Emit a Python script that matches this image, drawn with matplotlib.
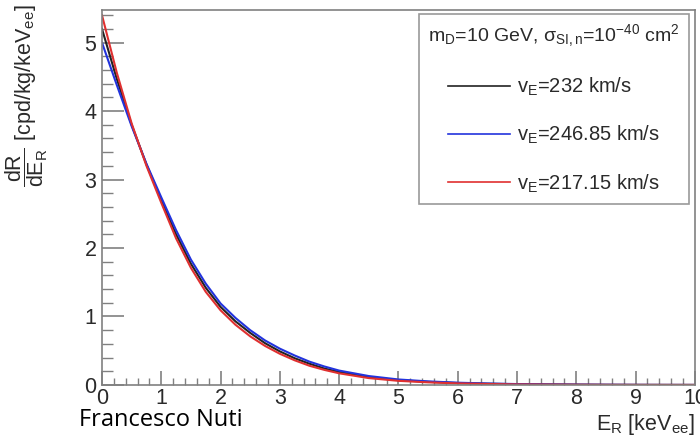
import numpy as np
import matplotlib
matplotlib.use('Agg')
import matplotlib.pyplot as plt
from matplotlib.ticker import MultipleLocator

plt.rcParams['font.family'] = ['Liberation Sans', 'DejaVu Sans']
plt.rcParams['mathtext.fontset'] = 'custom'
plt.rcParams['mathtext.rm'] = 'Liberation Sans'
plt.rcParams['mathtext.it'] = 'Liberation Sans'
plt.rcParams['mathtext.bf'] = 'Liberation Sans:bold'

# recoil energy grid [keVee]
energy = [0, 0.25, 0.5, 0.75, 1.0, 1.25, 1.5, 1.75, 2.0, 2.25, 2.5, 2.75, 3.0,
          3.25, 3.5, 3.75, 4.0, 4.5, 5.0, 5.5, 6.0, 6.5, 7.0, 7.5, 8.0, 8.5,
          9.0, 9.5, 10.0]

# dR/dE for the three Earth velocities
rate_232 = [5.20, 4.47, 3.80, 3.22, 2.70, 2.20, 1.77, 1.42, 1.14, 0.93, 0.76,
            0.61, 0.49, 0.39, 0.31, 0.24, 0.19, 0.115, 0.07, 0.045, 0.028,
            0.018, 0.011, 0.007, 0.004, 0.002, 0.001, 0.0005, 0.0002]
rate_246 = [5.00, 4.38, 3.78, 3.23, 2.74, 2.26, 1.83, 1.48, 1.19, 0.98, 0.80,
            0.65, 0.53, 0.43, 0.34, 0.27, 0.21, 0.13, 0.08, 0.052, 0.033,
            0.021, 0.013, 0.008, 0.005, 0.003, 0.0015, 0.0008, 0.0004]
rate_217 = [5.40, 4.56, 3.82, 3.20, 2.66, 2.14, 1.71, 1.36, 1.09, 0.88, 0.71,
            0.57, 0.455, 0.36, 0.28, 0.22, 0.17, 0.10, 0.06, 0.038, 0.023,
            0.014, 0.008, 0.005, 0.003, 0.0015, 0.0008, 0.0004, 0.0002]

labels = [r'v$_{E}$=232 km/s', r'v$_{E}$=246.85 km/s', r'v$_{E}$=217.15 km/s']
colors = ['#222222', '#2233dd', '#e03030']

fig = plt.figure(figsize=(7, 4.44), dpi=100)
ax = fig.add_axes([0.1457, 0.133, 0.847, 0.845])

for y, lab, c in zip([rate_232, rate_246, rate_217], labels, colors):
    ax.plot(energy, y, color=c, lw=1.5, label=lab)

ax.set_xlim(0, 10)
ax.set_ylim(0, 5.48)

#==========================================================================
# ROOT-like frame and ticks
for s in ax.spines.values():
    s.set_color('#808080')
    s.set_linewidth(1.2)
ax.xaxis.set_major_locator(MultipleLocator(1))
ax.xaxis.set_minor_locator(MultipleLocator(0.2))
ax.yaxis.set_major_locator(MultipleLocator(1))
ax.yaxis.set_minor_locator(MultipleLocator(0.2))
ax.tick_params(which='both', direction='in', color='#808080',
               labelcolor='#2a2a2a', labelsize=15.5, top=False, right=False)
ax.tick_params(axis='y', which='major', length=16, width=1.2, pad=4)
ax.tick_params(axis='y', which='minor', length=8, width=1.0)
ax.tick_params(axis='x', which='major', length=10, width=1.2, pad=2)
ax.tick_params(axis='x', which='minor', length=5, width=1.0)

fig.text(0.993, 0.045, r'E$_{R}$ [keV$_{ee}$]', ha='right', va='center',
         fontsize=15.5, color='#2a2a2a')
fig.text(0.038, 0.99, r'$\dfrac{dR}{dE_R}$ [cpd/kg/keV$_{ee}$]', rotation=90,
         ha='center', va='top', fontsize=15.5, color='#2a2a2a')

leg = ax.legend(loc='upper right', bbox_to_anchor=(0.99, 0.99),
                title=r'm$_{D}$=10 GeV, $\sigma_{SI,n}$=10$^{-40}$ cm$^{2}$',
                fontsize=14.5, title_fontsize=14, frameon=True, fancybox=False,
                edgecolor='#808080', handlelength=3.1, handletextpad=0.35,
                labelspacing=1.3, borderpad=0.45, borderaxespad=0)
leg.get_frame().set_linewidth(1.2)
for t in leg.get_texts():
    t.set_color('#2a2a2a')
leg.get_title().set_color('#2a2a2a')
for h in leg.get_lines():
    h.set_linewidth(1.2)

fig.text(0.113, 0.055, 'Francesco Nuti', family=['Open Sans', 'DejaVu Sans'],
         fontsize=17, color='black', ha='left', va='center')

fig.savefig('out.png', dpi=100)
